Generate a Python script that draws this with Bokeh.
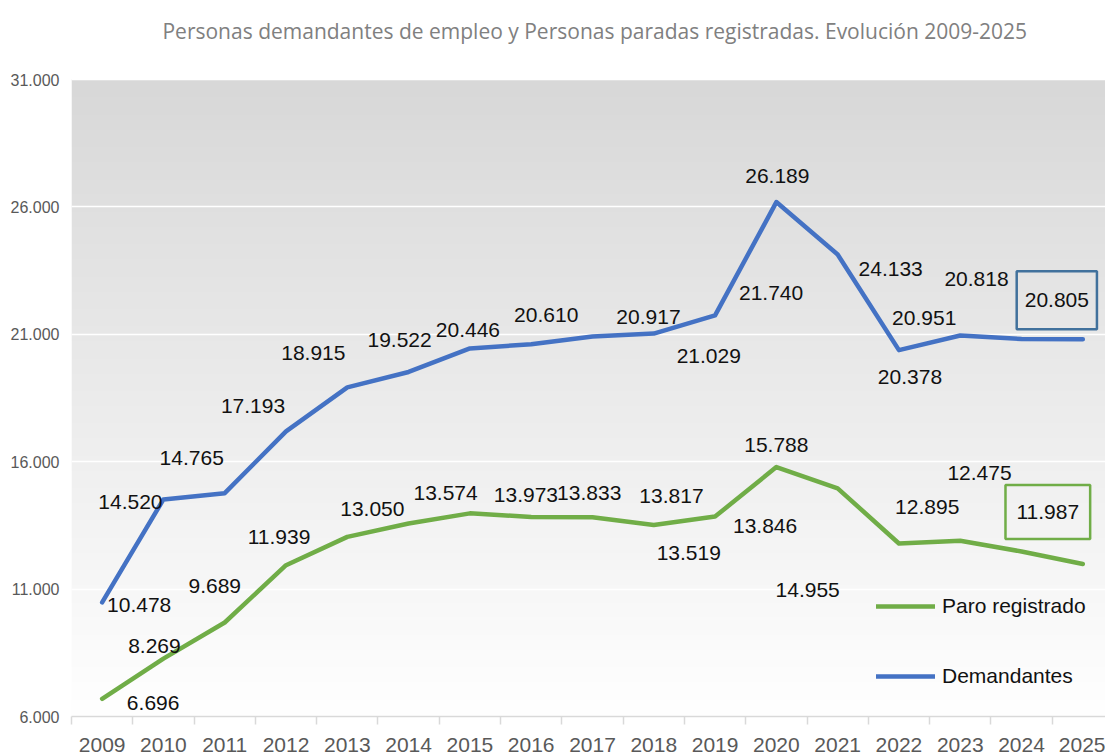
import numpy as np
from bokeh.plotting import figure
from bokeh.models import ColumnDataSource, FixedTicker, Legend, LegendItem, Label
from bokeh.core.properties import value
from bokeh.embed import file_html
from bokeh.resources import INLINE

# ---------------- data ----------------
years = [str(y) for y in range(2009, 2026)]
demandantes = [10478, 14520, 14765, 17193, 18915, 19522, 20446, 20610, 20917,
               21029, 21740, 26189, 24133, 20378, 20951, 20818, 20805]
paro = [6696, 8269, 9689, 11939, 13050, 13574, 13973, 13833, 13817,
        13519, 13846, 15788, 14955, 12790, 12895, 12475, 11987]
paro_labelled = [True] * 13 + [False] + [True] * 3
y_ticks = [6000, 11000, 16000, 21000, 26000, 31000]
title = "Personas demandantes de empleo y Personas paradas registradas. Evolución  2009-2025"

# ---------------- styling (label offsets in pixels) ----------------
dem_dx = [37, -33, -33, -33, -34, -9, -2, 15, 56, 55, 56, 1, 53, 11, -36, -45, -26]
dem_dy = [3, 3, -35, -25, -34, -32, -18, -29, -19, 22, -22, -26, 15, 27, -18, -60, -39]
paro_dx = [51, -9, -10, -7, 25, 37, 56, 58, 79, 35, 50, 0, -30, 0, -33, -42, -35]
paro_dy = [4, -13, -37, -28, -28, -31, -18, -24, -21, 28, 9, -22, 102, 0, -34, -79, -52]

BLUE = "#4472c4"
GREEN = "#70ad47"
LABEL_FONT = "Liberation Sans"

# layout geometry (pixels)
W, H = 1105, 755
LEFT, BOTTOM = 71, 39
PLOT_TOP = 79            # where the top tick (31.000) sits
TITLE_Y, TITLE_X = 30, 597
frame_h = H - BOTTOM
px_per_unit_y = (frame_h - PLOT_TOP) / (y_ticks[-1] - y_ticks[0])
y_end = y_ticks[-1] + PLOT_TOP / px_per_unit_y
x_start, x_end = -0.5, 16.37
px_per_unit_x = (W - LEFT) / (x_end - x_start)


def fmt(v):
    return f"{v:,}".replace(",", ".")


idx = list(range(len(years)))

p = figure(width=W, height=H, x_range=(x_start, x_end), y_range=(y_ticks[0], y_end),
           output_backend="svg", toolbar_location=None,
           min_border_left=LEFT, min_border_right=0, min_border_top=0, min_border_bottom=BOTTOM)
p.outline_line_color = None
p.background_fill_color = "white"
p.border_fill_color = "white"

# title (inside the top white band of the frame)
p.add_layout(Label(x=x_start + (TITLE_X - LEFT) / px_per_unit_x,
                   y=y_end - TITLE_Y / px_per_unit_y,
                   text=title, text_font="Open Sans", text_font_size="21px",
                   text_color="#808080", text_align="center", text_baseline="middle"))

# gradient background
n = 256
img = np.empty((n, 1), dtype=np.uint32)
view = img.view(dtype=np.uint8).reshape((n, 1, 4))
t = np.linspace(0, 1, n)
g = (255 - t * (255 - 216)).astype(np.uint8)
view[:, 0, 0] = g
view[:, 0, 1] = g
view[:, 0, 2] = g
view[:, 0, 3] = 255
bg = p.image_rgba(image=[img], x=-0.5, y=y_ticks[0], dw=len(years), dh=y_ticks[-1] - y_ticks[0])
bg.level = "image"

# grid
p.xgrid.visible = False
p.ygrid.ticker = FixedTicker(ticks=y_ticks)
p.ygrid.grid_line_color = "white"
p.ygrid.grid_line_width = 1.5

# y axis
p.yaxis.ticker = FixedTicker(ticks=y_ticks)
p.yaxis.major_label_overrides = {v: fmt(v) for v in y_ticks}
p.yaxis.axis_line_color = None
p.yaxis.major_tick_line_color = None
p.yaxis.minor_tick_line_color = None
p.yaxis.major_tick_out = 0
p.yaxis.major_label_standoff = 12
p.yaxis.major_label_text_font = LABEL_FONT
p.yaxis.major_label_text_font_size = "16px"
p.yaxis.major_label_text_color = "#595959"

# x axis
p.xaxis.ticker = FixedTicker(ticks=idx, minor_ticks=[i - 0.5 for i in idx] + [idx[-1] + 0.5])
p.xaxis.major_label_overrides = {i: y for i, y in zip(idx, years)}
p.xaxis.axis_line_color = "#d9d9d9"
p.xaxis.axis_line_width = 1.5
p.xaxis.major_tick_line_color = None
p.xaxis.major_tick_out = 0
p.xaxis.major_tick_in = 0
p.xaxis.minor_tick_line_color = "#d9d9d9"
p.xaxis.minor_tick_line_width = 1.5
p.xaxis.minor_tick_out = 8
p.xaxis.minor_tick_in = 0
p.xaxis.major_label_standoff = 13
p.xaxis.major_label_text_font = LABEL_FONT
p.xaxis.major_label_text_font_size = "21px"
p.xaxis.major_label_text_color = "#595959"

# lines
src = ColumnDataSource(dict(x=idx, dem=demandantes, paro=paro))
l_dem = p.line("x", "dem", source=src, line_color=BLUE, line_width=4.5, line_join="round", line_cap="round")
l_paro = p.line("x", "paro", source=src, line_color=GREEN, line_width=4.5, line_join="round", line_cap="round")

# data labels (all but last, which are boxed)
dem_src = ColumnDataSource(dict(x=idx[:-1], y=demandantes[:-1],
                                t=[fmt(v) for v in demandantes[:-1]],
                                dx=dem_dx[:-1], dy=dem_dy[:-1]))
p.text("x", "y", text="t", x_offset="dx", y_offset="dy", source=dem_src,
       text_font=value(LABEL_FONT), text_font_size="21px", text_color="#111111",
       text_align="center", text_baseline="middle")

pi = [i for i in idx[:-1] if paro_labelled[i]]
paro_src = ColumnDataSource(dict(x=pi, y=[paro[i] for i in pi],
                                 t=[fmt(paro[i]) for i in pi],
                                 dx=[paro_dx[i] for i in pi], dy=[paro_dy[i] for i in pi]))
p.text("x", "y", text="t", x_offset="dx", y_offset="dy", source=paro_src,
       text_font=value(LABEL_FONT), text_font_size="21px", text_color="#111111",
       text_align="center", text_baseline="middle")

# boxed last labels
for series, dx, dy, col, pad in ((demandantes, dem_dx, dem_dy, "#41719c", (8, 22)),
                                 (paro, paro_dx, paro_dy, GREEN, (11, 20))):
    lab = Label(x=idx[-1], y=series[-1], x_offset=dx[-1], y_offset=-dy[-1],
                text=fmt(series[-1]), text_font=LABEL_FONT, text_font_size="21px",
                text_color="#111111", text_align="center", text_baseline="middle",
                border_line_color=col, border_line_width=2.5, padding=pad)
    p.add_layout(lab)

# legend
legend = Legend(items=[LegendItem(label="Paro registrado", renderers=[l_paro]),
                       LegendItem(label="Demandantes", renderers=[l_dem])],
                location=(805, 28), orientation="vertical")
legend.background_fill_alpha = 0
legend.border_line_color = None
legend.padding = 0
legend.margin = 0
legend.glyph_width = 59
legend.glyph_height = 20
legend.label_height = 20
legend.spacing = 46
legend.label_standoff = 7
legend.label_text_font = LABEL_FONT
legend.label_text_font_size = "21px"
legend.label_text_color = "#111111"
p.add_layout(legend)

open("out.html", "w").write(file_html(p, INLINE))
